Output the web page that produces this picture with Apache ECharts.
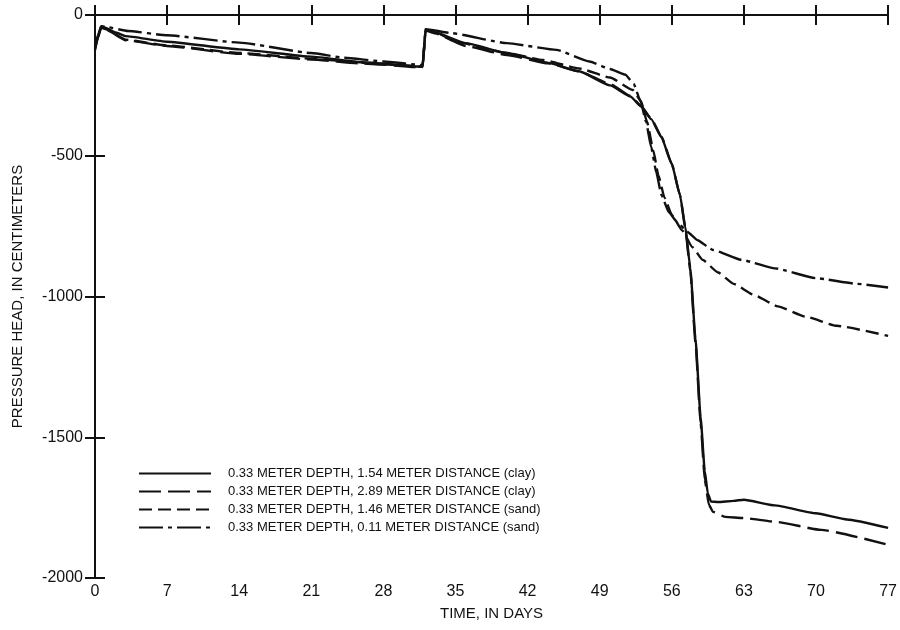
<!DOCTYPE html>
<html>
<head>
<meta charset="utf-8">
<script src="https://cdn.jsdelivr.net/npm/echarts@6/dist/echarts.min.js"></script>
<style>
  html, body { margin: 0; padding: 0; background: #fff; }
  #chart { width: 900px; height: 630px; }
</style>
</head>
<body>
<div id="chart"></div>
<script>
// values (days, pressure head in cm)
const seriesNames = [
  '0.33 METER DEPTH, 1.54 METER DISTANCE (clay)',
  '0.33 METER DEPTH, 2.89 METER DISTANCE (clay)',
  '0.33 METER DEPTH, 1.46 METER DISTANCE (sand)',
  '0.33 METER DEPTH, 0.11 METER DISTANCE (sand)',
]

const clay154Days = [0, 0.3, 0.6, 1, 2, 3, 7, 14, 21, 26, 31.8, 32.1, 33, 36, 40, 44, 47, 50, 52, 53, 54, 55, 56, 56.8, 57.3, 57.8, 58.3, 58.8, 59.2, 59.5, 59.8, 60.5, 62, 63, 66, 70, 73, 77]
const clay154Head = [-125, -80, -42, -45, -62, -75, -95, -122, -148, -168, -184, -53, -62, -100, -135, -170, -200, -250, -290, -325, -370, -435, -530, -640, -750, -900, -1150, -1430, -1620, -1700, -1728, -1730, -1726, -1722, -1742, -1770, -1792, -1822]

const clay289Days = [0, 0.3, 0.6, 1, 3, 7, 14, 21, 26, 31.8, 32.1, 33, 36, 40, 44, 47, 50, 52, 53, 54, 55, 56, 56.8, 57.3, 57.8, 58.3, 58.8, 59.2, 59.6, 60, 61.2, 63, 66, 70.5, 77]
const clay289Head = [-120, -75, -45, -50, -90, -110, -138, -158, -172, -186, -55, -65, -110, -142, -172, -200, -245, -288, -322, -368, -432, -528, -640, -755, -910, -1165, -1450, -1650, -1740, -1765, -1783, -1787, -1800, -1829, -1882]

const sand146Days = [0, 0.3, 0.6, 1, 3, 7, 14, 21, 26, 31.8, 32.1, 33, 35, 40, 43.5, 47, 50, 52.2, 53, 53.6, 54.2, 54.7, 55.3, 56, 57, 58, 59, 60.5, 62, 64, 66.3, 69, 72, 77]
const sand146Head = [-115, -75, -45, -50, -88, -108, -135, -155, -170, -183, -52, -60, -95, -135, -160, -190, -222, -266, -305, -380, -480, -570, -650, -710, -765, -825, -870, -915, -955, -995, -1035, -1072, -1104, -1140]

const sand011Days = [0, 0.3, 0.6, 1, 3.2, 7, 14, 21, 24.2, 28, 31.8, 32.1, 34.5, 40, 44.8, 48, 50, 51.5, 52.3, 53, 53.5, 54, 54.5, 55, 55.7, 56.5, 57.5, 58.5, 60, 63, 66, 70, 74, 77]
const sand011Head = [-110, -70, -40, -42, -57, -72, -98, -135, -152, -165, -178, -50, -64, -100, -124, -165, -192, -212, -245, -310, -380, -470, -560, -640, -700, -735, -770, -800, -835, -872, -900, -935, -955, -968]

const xTicks = { min: 0, max: 77, interval: 7 }
const yTicks = { min: -2000, max: 0, interval: 500 }

const lineTypes = ['solid', [22, 7], [13, 6], [24, 5, 4, 5]]

const pairs = (days, head) => days.map((d, i) => [d, head[i]])
const seriesData = [
  pairs(clay154Days, clay154Head),
  pairs(clay289Days, clay289Head),
  pairs(sand146Days, sand146Head),
  pairs(sand011Days, sand011Head),
]

const font = 'Liberation Sans, Arial, Helvetica, sans-serif'
const ink = '#111'

const axisCommon = {
  axisLine: { show: true, lineStyle: { color: ink, width: 2 } },
  axisTick: { show: true, inside: true, length: 10, lineStyle: { color: ink, width: 2 } },
  splitLine: { show: false },
}

const chart = echarts.init(document.getElementById('chart'), null, { renderer: 'canvas' })

chart.setOption({
  animation: false,
  backgroundColor: '#fff',
  grid: { left: 95, right: 7, top: 15, bottom: 52 },
  legend: {
    orient: 'vertical',
    left: 138,
    top: 467,
    padding: 0,
    itemWidth: 72,
    itemHeight: 13,
    itemGap: 5,
    data: seriesNames,
    // hide the circle marker, keep only the line sample
    itemStyle: { opacity: 0 },
    textStyle: { color: ink, fontFamily: font, fontSize: 13, padding: [0, 0, 0, 12] },
  },
  xAxis: [
    {
      type: 'value',
      position: 'bottom',
      ...xTicks,
      ...axisCommon,
      name: 'TIME, IN DAYS',
      nameLocation: 'middle',
      nameGap: 28,
      nameTextStyle: { color: ink, fontFamily: font, fontSize: 15 },
      axisLabel: { color: ink, fontFamily: font, fontSize: 16, margin: 6 },
    },
    {
      type: 'value',
      position: 'top',
      ...xTicks,
      ...axisCommon,
      axisLabel: { show: false },
    },
  ],
  yAxis: [
    {
      type: 'value',
      position: 'left',
      ...yTicks,
      ...axisCommon,
      name: 'PRESSURE HEAD, IN CENTIMETERS',
      nameLocation: 'middle',
      nameGap: 70,
      nameTextStyle: { color: ink, fontFamily: font, fontSize: 15 },
      axisLabel: { color: ink, fontFamily: font, fontSize: 16, margin: 12, formatter: (v) => String(v) },
    },
    {
      type: 'value',
      position: 'right',
      ...yTicks,
      ...axisCommon,
      axisLabel: { show: false },
    },
  ],
  series: seriesData.map((data, i) => ({
    name: seriesNames[i],
    type: 'line',
    data,
    symbol: 'none',
    smooth: 0.15,
    smoothMonotone: 'x',
    color: ink,
    lineStyle: { color: ink, width: 2.4, type: lineTypes[i] },
    emphasis: { disabled: true },
  })),
})
</script>
</body>
</html>
